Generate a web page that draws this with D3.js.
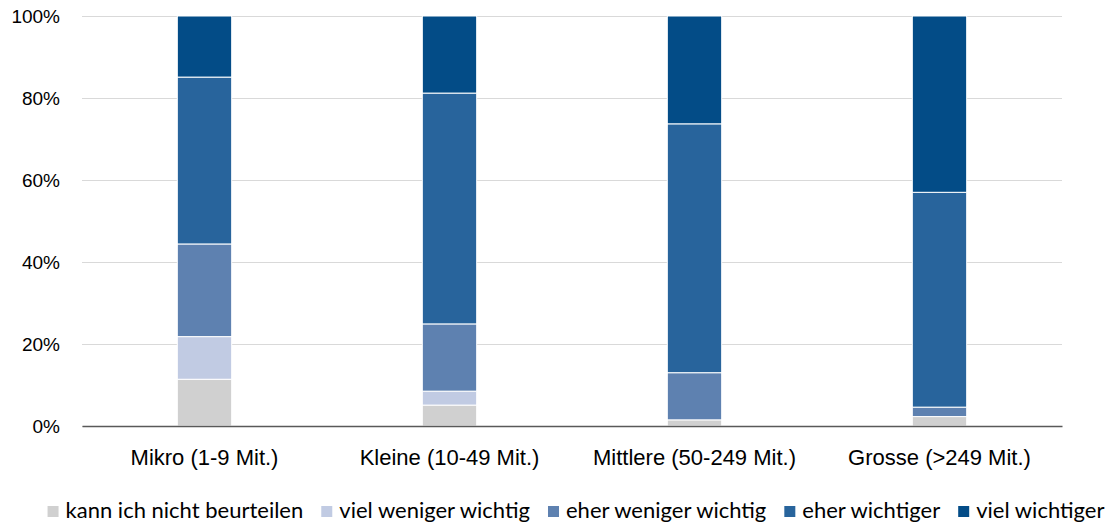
<!DOCTYPE html>
<html><head><meta charset="utf-8">
<script src="https://cdn.jsdelivr.net/npm/d3@7"></script>
<style>body{margin:0;background:#fff}svg{font-family:Lato,"Open Sans",sans-serif}</style>
</head><body><svg id="c" width="1117" height="526"></svg>
<script>
const categories = ["Mikro (1-9 Mit.)", "Kleine (10-49 Mit.)", "Mittlere (50-249 Mit.)", "Grosse (>249 Mit.)"];
const seriesNames = ["kann ich nicht beurteilen", "viel weniger wichtig", "eher weniger wichtig", "eher wichtiger", "viel wichtiger"];
const kannNicht = [11.4, 5.1, 1.5, 2.3];
const vielWeniger = [10.4, 3.4, 0, 0];
const eherWeniger = [22.6, 16.4, 11.5, 2.3];
const eherWichtiger = [40.7, 56.3, 60.7, 52.4];
const vielWichtiger = [14.9, 18.8, 26.3, 43.0];
const colors = ["#D0D0D0", "#C1CBE3", "#5E81B0", "#28649C", "#034C87"];
const yTicks = [0, 0.2, 0.4, 0.6, 0.8, 1.0];

(function () {
const seriesVals = [kannNicht, vielWeniger, eherWeniger, eherWichtiger, vielWichtiger];
const rows = categories.map((c, i) => {
  const r = {cat: c};
  seriesNames.forEach((s, j) => r[s] = seriesVals[j][i] / 100);
  return r;
});
const stack = d3.stack().keys(seriesNames)(rows);

const svg = d3.select("#c");
const mL = 82, mR = 1062, mT = 16, mB = 426;
const x = d3.scaleBand().domain(categories).range([mL, mR]).paddingInner(0.778).paddingOuter(0.389);
const y = d3.scaleLinear().domain([0, 1]).range([mB, mT]);

const yAxis = svg.append("g").attr("transform", `translate(${mL},0)`)
  .call(d3.axisLeft(y).tickValues(yTicks).tickFormat(d3.format(".0%")).tickSize(-(mR - mL)).tickPadding(22));
yAxis.select(".domain").remove();
yAxis.selectAll(".tick line").attr("stroke", "#D9D9D9").attr("stroke-width", 1);
yAxis.selectAll(".tick text").attr("font-size", 19).attr("fill", "#000");

svg.append("g").selectAll("g").data(stack).join("g").attr("fill", (d, i) => colors[i])
  .selectAll("rect").data(d => d).join("rect")
  .attr("x", d => x(d.data.cat)).attr("width", x.bandwidth())
  .attr("y", d => y(d[1])).attr("height", d => Math.max(0, y(d[0]) - y(d[1])))
  .attr("stroke", "#fff").attr("stroke-width", 1);

const xAxis = svg.append("g").attr("transform", `translate(0,${mB})`)
  .call(d3.axisBottom(x).tickSize(0).tickPadding(23));
xAxis.select(".domain").attr("stroke", "#595959").attr("stroke-width", 1.5);
xAxis.selectAll(".tick text").attr("font-size", 22).attr("fill", "#000");

const lg = svg.append("g").attr("transform", "translate(0,518)");
const items = lg.selectAll("g").data(seriesNames).join("g");
items.append("rect").attr("width", 11).attr("height", 11).attr("y", -12).attr("fill", (d, i) => colors[i]);
items.append("text").attr("x", 18).attr("y", 0).attr("font-size", 22).attr("fill", "#000").text(d => d);
const widths = [];
items.each(function () { widths.push(this.getBBox().width); });
const gap = 18;
const total = d3.sum(widths) + gap * (widths.length - 1);
let cx = (42 + 1110 - total) / 2;
items.attr("transform", (d, i) => { const t = `translate(${cx},0)`; cx += widths[i] + gap; return t; });
})();
</script></body></html>
